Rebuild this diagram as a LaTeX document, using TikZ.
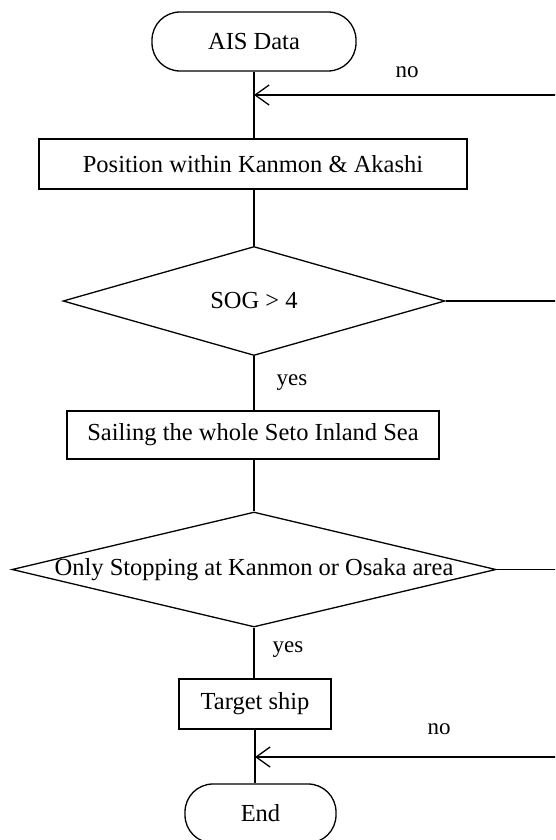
\documentclass[tikz,border=0pt]{standalone}
\usepackage{fontspec}
\setmainfont{Liberation Serif}
\usepackage{tikz}
\usetikzlibrary{calc,positioning,shapes.geometric,arrows.meta}

\begin{document}
\begin{tikzpicture}[x=1pt,y=-1pt,line width=1.3pt,
  term/.style={draw,rounded corners=28pt,minimum width=204pt,minimum height=59pt,
               font=\fontsize{24.5}{28}\selectfont,inner sep=0pt},
  bx/.style={draw,rectangle,minimum height=50pt,font=\fontsize{24.5}{28}\selectfont,inner sep=0pt},
  dec/.style={draw,diamond,inner sep=0pt,font=\fontsize{24.5}{28}\selectfont},
  lbl/.style={font=\fontsize{23}{26}\selectfont},
  a/.style={-{Straight Barb[length=14pt,width=20pt,line width=1.3pt]}}]
  \useasboundingbox (0,0) rectangle (555,840);
  \clip (0,0) rectangle (555,840);
  \node[term] (ais)  at (254,41.5) {AIS Data};
  \node[bx,minimum width=428pt] (pos) at (253,164) {Position within Kanmon \& Akashi};
  \node[dec,minimum width=382pt,minimum height=109pt] (sog) at (254,301) {SOG > 4};
  \node[bx,minimum width=372pt,minimum height=48pt] (sail) at (253,435) {Sailing the whole Seto Inland Sea};
  \node[dec,minimum width=484pt,minimum height=115pt] (stop) at (254,569.5)
    {\makebox[0pt]{Only Stopping at Kanmon or Osaka area}};
  \node[bx,minimum width=152pt] (tgt) at (255,704) {Target ship};
  \node[term,minimum width=151pt] (end) at (260.5,813.5) {End};
  % edge of the figure
  \coordinate (r1) at (560,95);
  \coordinate (r2) at (560,301);
  \coordinate (r3) at (560,569.5);
  \coordinate (r4) at (560,757);
  \draw (ais.south) -- (ais.south |- pos.north);
  \draw (pos.south -| sog.north) -- (sog.north);
  \draw (sog.south) -- (sog.south |- sail.north);
  \draw (sail.south -| stop.north) -- (stop.north);
  \draw (stop.south) -- (stop.south |- tgt.north);
  \draw (tgt.south) -- (tgt.south |- end.north);
  \draw (sog.east) -- (r2);
  \draw (stop.east) -- (r3);
  \draw[a] (r1) -- (ais.south |- r1);
  \draw[a] (r4) -- (tgt.south |- r4);
  \node[lbl] (no1)  at (407,72)  {no};
  \node[lbl] (yes1) at (292,383) {yes};
  \node[lbl] (yes2) at (288,650) {yes};
  \node[lbl] (no2)  at (439,729) {no};
\end{tikzpicture}
\end{document}
